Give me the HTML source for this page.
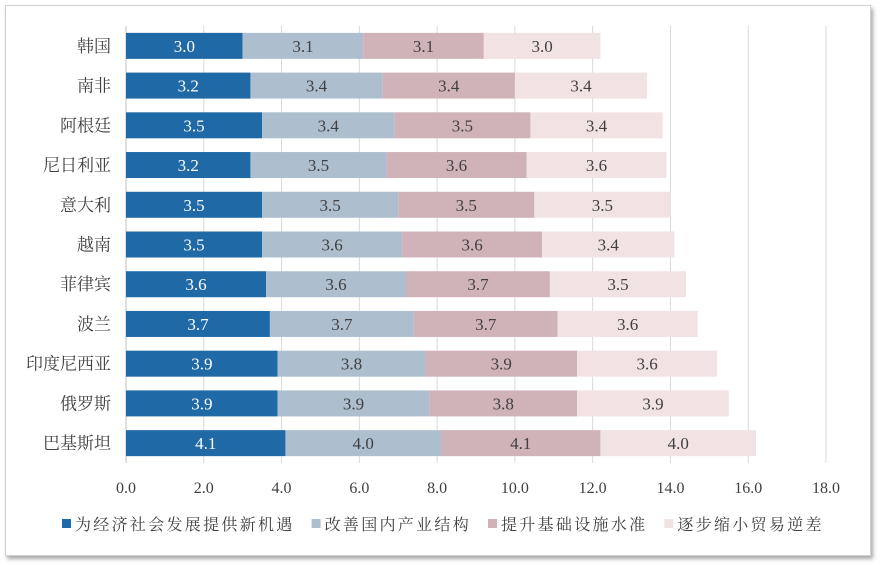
<!DOCTYPE html>
<html><head><meta charset="utf-8"><style>
body{margin:0;background:#fff;width:882px;height:566px;overflow:hidden}
#frame{position:absolute;left:5px;top:5px;width:864px;height:549px;border:1px solid #d0d0d0;box-shadow:2px 3px 4px rgba(0,0,0,0.35);background:#fff}
svg{position:absolute;left:0;top:0}
text{font-family:"Liberation Serif","Noto Serif CJK SC",serif}
</style></head><body>
<div id="frame"></div>
<svg id="c" width="882" height="566"></svg>
<script>
const categories=["韩国","南非","阿根廷","尼日利亚","意大利","越南","菲律宾","波兰","印度尼西亚","俄罗斯","巴基斯坦"];
const s1=[3.0,3.2,3.5,3.2,3.5,3.5,3.6,3.7,3.9,3.9,4.1];
const s2=[3.1,3.4,3.4,3.5,3.5,3.6,3.6,3.7,3.8,3.9,4.0];
const s3=[3.1,3.4,3.5,3.6,3.5,3.6,3.7,3.7,3.9,3.8,4.1];
const s4=[3.0,3.4,3.4,3.6,3.5,3.4,3.5,3.6,3.6,3.9,4.0];
const seriesNames=["为经济社会发展提供新机遇","改善国内产业结构","提升基础设施水准","逐步缩小贸易逆差"];
const ticks=[0,2,4,6,8,10,12,14,16,18];
const colors=["#1f69a6","#adbfcf","#cfb3b9","#f1e3e3"];
const series=[s1,s2,s3,s4];
const svg=document.getElementById('c');const NS="http://www.w3.org/2000/svg";
const x0=126,x1=826,xmax=18;const X=v=>x0+v/xmax*(x1-x0);
const yTop=26,yBot=463,bh=26;const step=(yBot-yTop)/categories.length;const Y=i=>yTop+step*(i+0.5);
function mk(t,a){const e=document.createElementNS(NS,t);for(const k in a)e.setAttribute(k,a[k]);svg.appendChild(e);return e;}
ticks.forEach(t=>{if(t>0){const l=mk('line',{x1:X(t),x2:X(t),y1:yTop,y2:yBot,stroke:'#d9d9d9','stroke-width':1});

}
const tx=mk('text',{x:X(t),y:493,'text-anchor':'middle','font-size':16,fill:'#404040'});tx.textContent=t.toFixed(1);

});
const ax=mk('line',{x1:x0,x2:x0,y1:yTop,y2:yBot,stroke:'#bfbfbf'});


categories.forEach((c,i)=>{const cy=Y(i);let acc=0;
const lb=mk('text',{x:111,y:cy+6,'text-anchor':'end','font-size':17,fill:'#404040'});lb.textContent=c;


series.forEach((s,k)=>{const v=s[i];const r=mk('rect',{x:X(acc),y:cy-bh/2,width:X(acc+v)-X(acc),height:bh,fill:colors[k]});


const t=mk('text',{x:(X(acc)+X(acc+v))/2,y:cy+6,'text-anchor':'middle','font-size':17,fill:k==0?'#fff':'#404040'});t.textContent=v.toFixed(1);


acc+=v;});});
let lx=62;seriesNames.forEach((n,k)=>{const r=mk('rect',{x:lx,y:519,width:9,height:9,fill:colors[k]});


const t=mk('text',{x:lx+13,y:530,'font-size':16,'letter-spacing':2.3,fill:'#404040'});t.textContent=n;


lx+=13+n.length*18.3+17;});
</script>
</body></html>
